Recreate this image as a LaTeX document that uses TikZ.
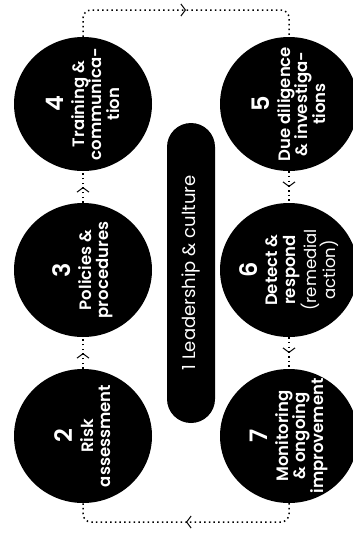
\documentclass[tikz,border=0pt]{standalone}
\usepackage{fontspec}
\setmainfont{Poppins}[BoldFont={Poppins SemiBold}]
\usetikzlibrary{shapes.geometric,decorations.markings,arrows.meta}
\begin{document}
\begin{tikzpicture}[x=1pt,y=-1pt,
  blob/.style={ellipse,fill=black,minimum width=138pt,minimum height=134pt,inner sep=0pt},
  blobtext/.style={rotate=90,text=white,align=center,inner sep=0pt,
    font=\fontsize{16.5}{17.5}\selectfont\bfseries},
  flow/.style={line width=1.5pt,dash pattern=on 1.5pt off 3.2pt,rounded corners=8pt,
    postaction={decorate},
    decoration={markings,mark=at position 0.5 with {\arrow[line width=1pt]{Straight Barb[length=4.5pt,width=12pt]}}}},
  pill/.style={rotate=90,fill=black,text=white,rounded corners=24pt,minimum width=300pt,
    minimum height=48pt,inner sep=0pt,font=\fontsize{18}{20}\selectfont}
]
\useasboundingbox (0,0) rectangle (353,541);
\newcommand\bignum[1]{{\fontsize{24}{25}\selectfont #1}\\[3pt]}

\node[blob] (c2) at (83,436) {};
\node[blob] (c3) at (83,270) {};
\node[blob] (c4) at (83,104) {};
\node[blob] (c5) at (289,104) {};
\node[blob] (c6) at (289,270) {};
\node[blob] (c7) at (289,436) {};

\node[blobtext] (t2) at (c2) {\bignum{2}Risk\\assessment};
\node[blobtext] (t3) at (c3) {\bignum{3}Policies \&\\procedures};
\node[blobtext] (t4) at (c4) {\bignum{4}Training \&\\communica-\\tion};
\node[blobtext] (t5) at (c5) {\bignum{5}Due diligence\\\& investiga-\\tions};
\node[blobtext] (t6) at (c6) {\bignum{6}Detect \&\\respond\\\mdseries(remedial\\\mdseries action)};
\node[blobtext] (t7) at (c7) {\bignum{7}Monitoring\\\& ongoing\\improvement};

\node[pill] (lead) at (191,273) {1 Leadership \& culture};

\coordinate (tl) at (83,10);
\coordinate (tr) at (289,10);
\coordinate (bl) at (83,522);
\coordinate (br) at (289,522);

\draw[flow] (c2.north) -- (c3.south);
\draw[flow] (c3.north) -- (c4.south);
\draw[flow] (c4.north) -- (tl) -- (tr) -- (c5.north);
\draw[flow] (c5.south) -- (c6.north);
\draw[flow] (c6.south) -- (c7.north);
\draw[flow] (c7.south) -- (br) -- (bl) -- (c2.south);
\end{tikzpicture}
\end{document}
